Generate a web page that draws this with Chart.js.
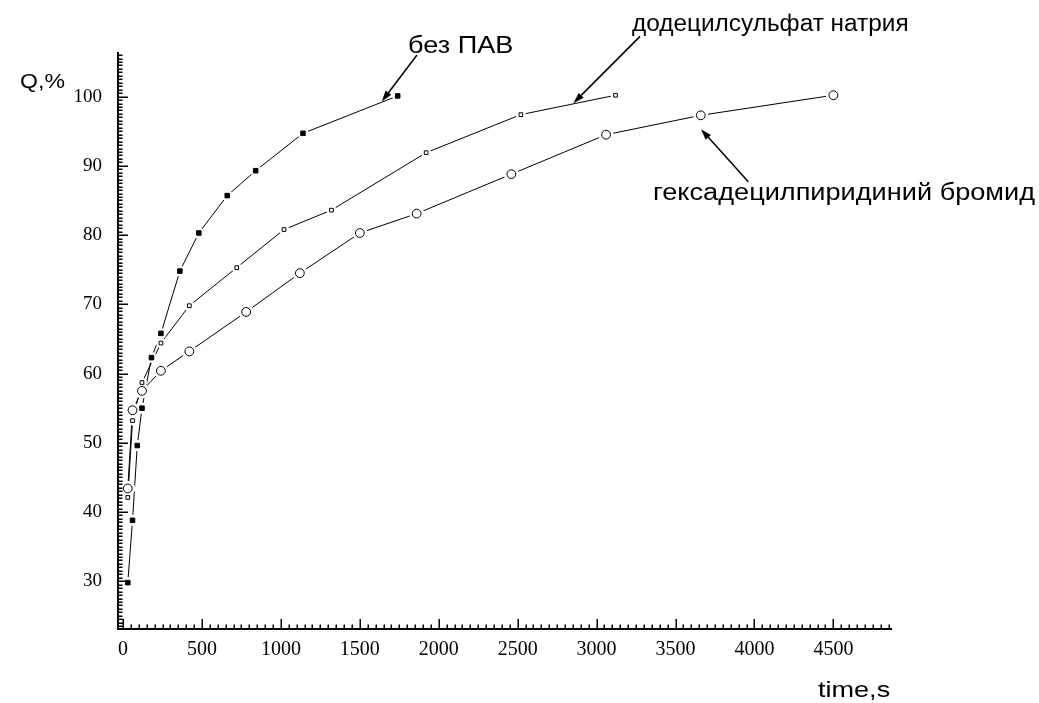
<!DOCTYPE html>
<html>
<head>
<meta charset="utf-8">
<script src="https://cdn.jsdelivr.net/npm/chart.js@4.4.0/dist/chart.umd.min.js"></script>
<style>
  html, body { margin: 0; padding: 0; background: #fff; }
  #wrap { width: 1039px; height: 703px; }
</style>
</head>
<body>
<div id="wrap"><canvas id="chart" width="1039" height="703"></canvas></div>
<script>
// Q,% vs time,s for three surfactant conditions

// без ПАВ
var timeNone = [30, 60, 90, 120, 180, 240, 360, 480, 660, 840, 1140, 1740];
var qNone = [29.8, 38.8, 49.6, 55.0, 62.3, 65.8, 74.8, 80.3, 85.7, 89.3, 94.7, 100.1];

// додецилсульфат натрия
var timeSds = [30, 60, 120, 240, 420, 720, 1020, 1320, 1920, 2520, 3120];
var qSds = [42.1, 53.2, 58.7, 64.4, 69.8, 75.3, 80.8, 83.6, 91.9, 97.4, 100.2];

// гексадецилпиридиний бромид
var timeCpb = [30, 60, 120, 240, 420, 780, 1120, 1500, 1860, 2460, 3060, 3660, 4500];
var qCpb = [43.4, 54.7, 57.5, 60.4, 63.2, 68.9, 74.5, 80.3, 83.1, 88.8, 94.5, 97.3, 100.2];

var xTickValues = [0, 500, 1000, 1500, 2000, 2500, 3000, 3500, 4000, 4500];
var yTickValues = [30, 40, 50, 60, 70, 80, 90, 100];

var seriesNames = ['без ПАВ', 'додецилсульфат натрия', 'гексадецилпиридиний бромид'];
var xTitle = 'time,s';
var yTitle = 'Q,%';

function toPoints(xs, ys) {
  var pts = [];
  for (var i = 0; i < xs.length; i++) {
    pts.push({ x: xs[i], y: ys[i] });
  }
  return pts;
}

var ptsNone = toPoints(timeNone, qNone);
var ptsSds = toPoints(timeSds, qSds);
var ptsCpb = toPoints(timeCpb, qCpb);

// label text + arrow, given in data units
var callouts = [
  { text: seriesNames[0], tx: 1805, ty: 106.3, sx: 1.18, ax: 1862, ay: 106.0, bx: 1639, by: 99.3 },
  { text: seriesNames[1], tx: 3224, ty: 109.5, sx: 1.06, ax: 3275, ay: 108.7, bx: 2853, by: 99.05 },
  { text: seriesNames[2], tx: 3357, ty: 85.1, sx: 1.18, ax: 3961, ay: 87.7, bx: 3661, by: 95.3 }
];

function lineSet(pts) {
  return { data: pts, showLine: true, borderColor: '#000', borderWidth: 1,
    pointRadius: 0, pointHoverRadius: 0, order: 3 };
}

function haloSet(pts, r) {
  return { data: pts, showLine: false, pointStyle: 'circle', pointRadius: r,
    pointHoverRadius: r, pointBackgroundColor: '#fff', pointBorderWidth: 0, order: 2 };
}

function markSet(pts, style, r, fill) {
  return { data: pts, showLine: false, pointStyle: style, pointRadius: r,
    pointHoverRadius: r, pointBackgroundColor: fill, pointBorderColor: '#000',
    pointBorderWidth: 1, order: 1 };
}

function drawStretched(ctx, text, x, y, stretch) {
  ctx.save();
  ctx.translate(x, y);
  ctx.scale(stretch, 1);
  ctx.fillText(text, 0, 0);
  ctx.restore();
}

function fixedTicks(values) {
  return function(scale) {
    scale.ticks = values.map(function(v) { return { value: v }; });
  };
}

var extrasPlugin = {
  id: 'extras',
  afterDraw: function(chart) {
    var ctx = chart.ctx;
    var xs = chart.scales.x;
    var ys = chart.scales.y;
    var area = chart.chartArea;
    var i, p, len;

    // inward ticks, major + minor
    ctx.save();
    ctx.strokeStyle = '#000';
    ctx.lineWidth = 1.5;
    ctx.beginPath();
    for (i = 0; i <= 97; i++) {
      p = Math.round(xs.getPixelForValue(i * 50)) + 0.25;
      len = (i % 10 === 0) ? 10 : 4.5;
      ctx.moveTo(p, area.bottom);
      ctx.lineTo(p, area.bottom - len);
    }
    for (i = 47; i <= 212; i++) {
      p = Math.round(ys.getPixelForValue(i / 2)) + 0.25;
      len = (i % 20 === 0) ? 10 : 4.5;
      ctx.moveTo(area.left, p);
      ctx.lineTo(area.left + len, p);
    }
    ctx.stroke();
    ctx.restore();

    // axis titles
    ctx.save();
    ctx.fillStyle = '#000';
    ctx.textBaseline = 'alphabetic';
    ctx.textAlign = 'left';
    ctx.font = '21px "Liberation Sans", Arial, sans-serif';
    drawStretched(ctx, yTitle, area.left - 98, area.top + 35, 1.1);
    ctx.font = '22px "Liberation Sans", Arial, sans-serif';
    drawStretched(ctx, xTitle, area.right - 73, area.bottom + 68, 1.23);

    // callouts
    ctx.font = '23px "Liberation Sans", Arial, sans-serif';
    ctx.lineWidth = 1.5;
    ctx.strokeStyle = '#000';
    callouts.forEach(function(c) {
      drawStretched(ctx, c.text, xs.getPixelForValue(c.tx), ys.getPixelForValue(c.ty), c.sx);
      var x1 = xs.getPixelForValue(c.ax), y1 = ys.getPixelForValue(c.ay);
      var x2 = xs.getPixelForValue(c.bx), y2 = ys.getPixelForValue(c.by);
      var ang = Math.atan2(y2 - y1, x2 - x1);
      var hl = 11, hw = 3.5;
      var bx = x2 - hl * Math.cos(ang), by = y2 - hl * Math.sin(ang);
      ctx.beginPath();
      ctx.moveTo(x1, y1);
      ctx.lineTo(bx, by);
      ctx.stroke();
      ctx.beginPath();
      ctx.moveTo(x2, y2);
      ctx.lineTo(bx + hw * Math.sin(ang), by - hw * Math.cos(ang));
      ctx.lineTo(bx - hw * Math.sin(ang), by + hw * Math.cos(ang));
      ctx.closePath();
      ctx.fill();
    });
    ctx.restore();
  }
};

var tickFontSerif = { family: '"Liberation Serif", "Times New Roman", serif', size: 20 };

new Chart(document.getElementById('chart'), {
  type: 'scatter',
  data: {
    datasets: [
      lineSet(ptsNone), lineSet(ptsSds), lineSet(ptsCpb),
      haloSet(ptsNone, 5.5), haloSet(ptsSds, 5), haloSet(ptsCpb, 7.5),
      markSet(ptsNone, 'rect', 3.2, '#000'),
      markSet(ptsSds, 'rect', 2.6, '#fff'),
      markSet(ptsCpb, 'circle', 4.4, '#fff')
    ]
  },
  options: {
    responsive: false,
    animation: false,
    layout: { padding: { top: 53, right: 148, bottom: 0, left: 0 } },
    plugins: {
      legend: { display: false },
      tooltip: { enabled: false }
    },
    scales: {
      x: {
        type: 'linear',
        min: -32,
        max: 4865,
        grid: { display: false, drawTicks: false },
        border: { display: true, color: '#000', width: 2 },
        ticks: {
          autoSkip: false,
          maxRotation: 0,
          padding: 9,
          color: '#000',
          font: tickFontSerif,
          callback: function(v) { return String(v); }
        },
        afterBuildTicks: fixedTicks(xTickValues),
        afterFit: function(s) { s.height = 74; }
      },
      y: {
        type: 'linear',
        min: 23.1,
        max: 106.3,
        grid: { display: false, drawTicks: false },
        border: { display: true, color: '#000', width: 2 },
        ticks: {
          autoSkip: false,
          padding: 16,
          color: '#000',
          font: { family: tickFontSerif.family, size: 19 },
          callback: function(v) { return String(v); }
        },
        afterBuildTicks: fixedTicks(yTickValues),
        afterFit: function(s) { s.width = 118; }
      }
    }
  },
  plugins: [extrasPlugin]
});
</script>
</body>
</html>
